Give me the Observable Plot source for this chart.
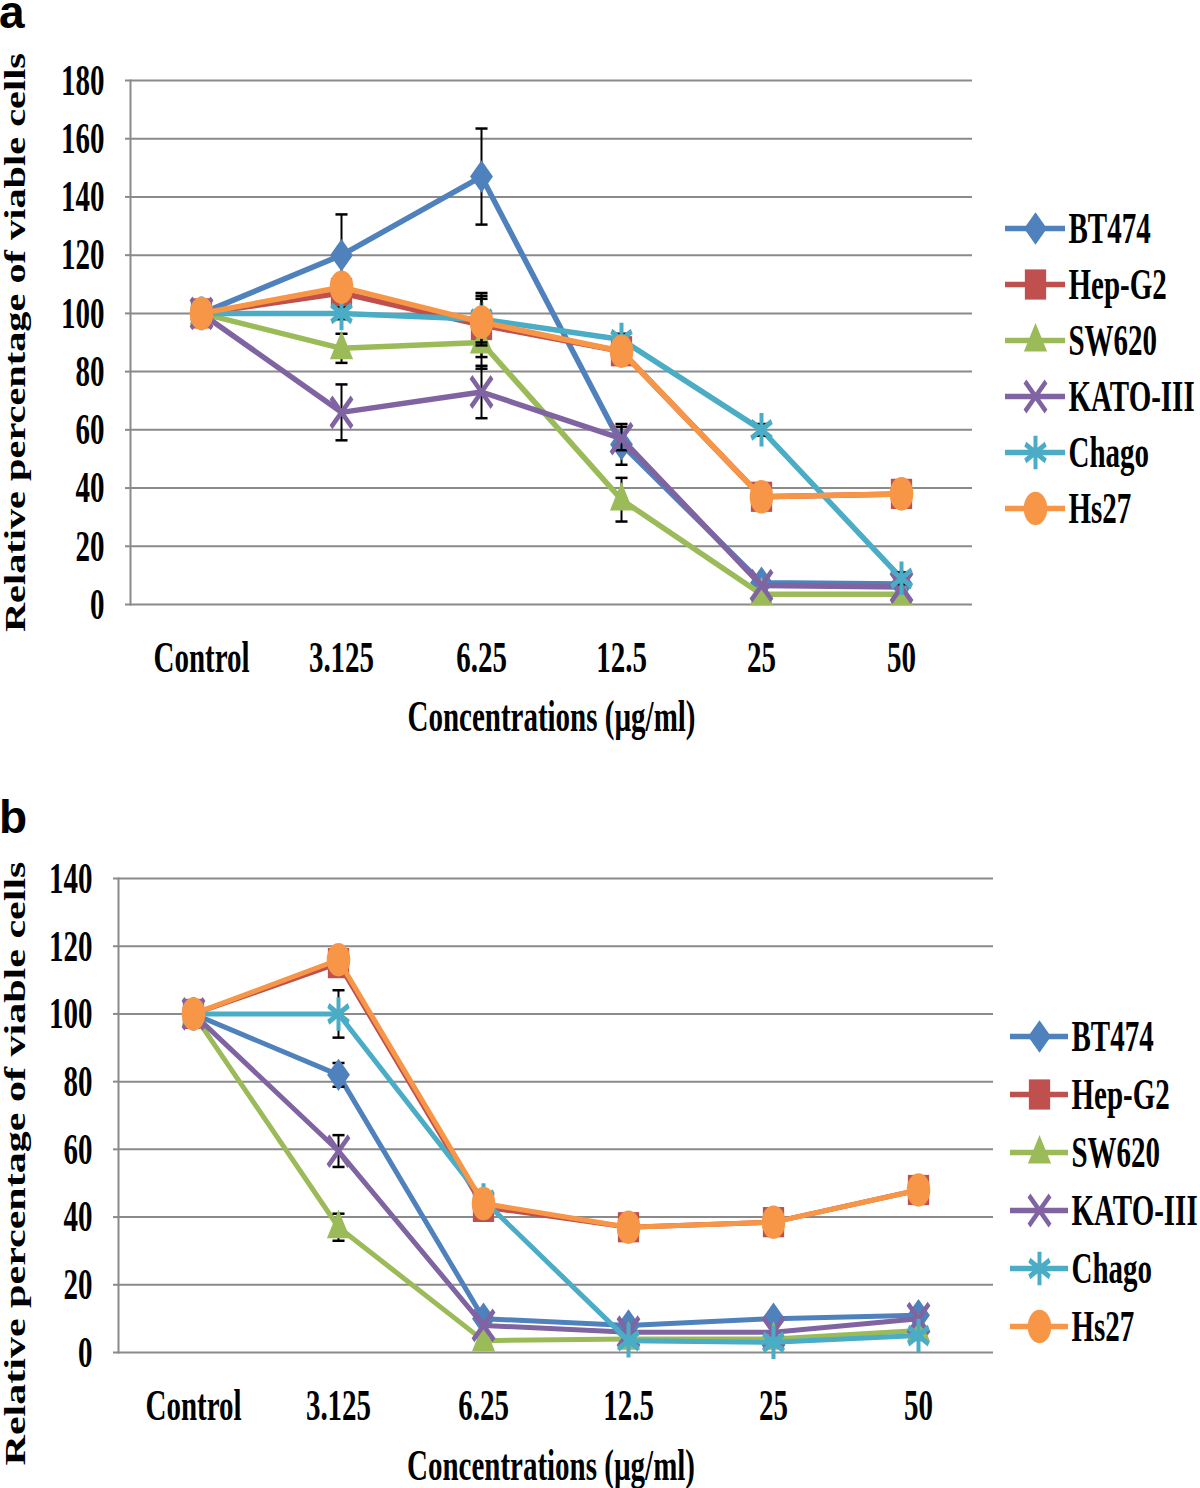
<!DOCTYPE html>
<html><head><meta charset="utf-8">
<script src="https://cdn.jsdelivr.net/npm/d3@7"></script>
<script src="https://cdn.jsdelivr.net/npm/@observablehq/plot@0.6"></script>
<style>
body{margin:0;background:#fff;}
#root{position:relative;width:1200px;height:1488px;overflow:hidden;background:#fff;}
.box{position:absolute;}
.letter{position:absolute;font-family:"Liberation Sans",Arial,sans-serif;font-weight:bold;font-size:46px;line-height:20px;color:#000;}
</style></head><body><div id="root"></div>
<script>
// ---------- data ----------
const concentrations = ["Control", "3.125", "6.25", "12.5", "25", "50"];
const seriesNames = ["BT474", "Hep-G2", "SW620", "KATO-III", "Chago", "Hs27"];
const seriesColors = ["#4F81BD", "#C0504D", "#9BBB59", "#8064A2", "#4BACC6", "#F79646"];
const seriesSymbols = ["diamond2", "square", "triangle", "times", "asterisk", "circle"];
const yTitle = "Relative percentage of viable cells";
const xTitle = "Concentrations (µg/ml)";

// panel a values (per series, per concentration)
const aBT474 = [100, 120, 147, 55, 7.5, 7];
const aHepG2 = [100, 107, 96, 87, 37, 38];
const aSW620 = [100, 88, 90, 36, 3.5, 3.5];
const aKATO  = [100, 66, 73, 57, 6.5, 6];
const aChago = [100, 100, 98, 91, 60, 9];
const aHs27  = [100, 109, 97, 87, 37, 38];
// panel a standard deviations
const aErrBT474 = [0, 14, 16.5, 7, 0, 0];
const aErrHepG2 = [0, 3, 11, 3, 2, 2];
const aErrSW620 = [0, 5, 9, 7.5, 0, 0];
const aErrKATO  = [0, 9.6, 9, 4, 0, 0];
const aErrChago = [0, 2, 8, 2, 2, 2];
const aErrHs27  = [0, 3, 8, 3, 2, 2];
const aTicks = [0, 20, 40, 60, 80, 100, 120, 140, 160, 180];

// panel b values
const bBT474 = [100, 82, 10, 8, 10, 11];
const bHepG2 = [100, 115, 43, 37, 38.5, 48];
const bSW620 = [100, 37, 3.5, 4, 4, 6.5];
const bKATO  = [100, 59.5, 8, 6, 6, 10];
const bChago = [100, 100, 45, 3.5, 3, 5];
const bHs27  = [100, 116, 44, 37, 38.5, 48];
// panel b standard deviations
const bErrBT474 = [0, 3.5, 0, 0, 0, 0];
const bErrHepG2 = [0, 3, 2, 2, 2, 2];
const bErrSW620 = [0, 4, 0, 0, 0, 0];
const bErrKATO  = [0, 4.7, 0, 0, 0, 0];
const bErrChago = [0, 7, 0, 0, 0, 0];
const bErrHs27  = [0, 3, 2, 2, 2, 2];
const bTicks = [0, 20, 40, 60, 80, 100, 120, 140];

// ---------- helpers ----------
const FONT = '"Liberation Serif", "Times New Roman", serif';
const GRID = "#8a8a8a";
const markerR = {diamond2: 10.3, square: 12, triangle: 8.6, times: 9.6, asterisk: 11.2, circle: 11.8};
const strokeSym = new Set(["times", "asterisk"]);
const capSymbol = {draw(ctx, size) { const w = Math.sqrt(size) / 2; ctx.moveTo(-w, 0); ctx.lineTo(w, 0); }};

function stretchEl(el, k, kRot) {
  const b = el.getBBox();
  const cx = b.x + b.width / 2, cy = b.y + b.height / 2;
  const tr = el.getAttribute("transform") || "";
  const sc = /rotate/.test(tr) ? `scale(${kRot || k},1)` : `scale(1,${k})`;
  el.setAttribute("transform", `${tr} translate(${cx},${cy}) ${sc} translate(${-cx},${-cy})`);
}

function markerMark(data, s, opts) {
  const sym = seriesSymbols[s];
  const base = {symbol: sym, r: markerR[sym], ...opts};
  if (strokeSym.has(sym)) return Plot.dot(data, {...base, fill: "none", stroke: seriesColors[s], strokeWidth: 4});
  return Plot.dot(data, {...base, fill: seriesColors[s], stroke: "none"});
}

function panel(cfg) {
  const rows = [];
  cfg.values.forEach((vals, s) => vals.forEach((v, i) =>
    rows.push({series: seriesNames[s], conc: concentrations[i], value: v, err: cfg.errors[s][i]})));
  const marks = [
    Plot.gridY({ticks: cfg.ticks, stroke: GRID, strokeOpacity: 1, strokeWidth: 2}),
    Plot.frame({anchor: "left", stroke: GRID, strokeWidth: 2}),
    Plot.axisY({ticks: cfg.ticks, tickSize: 5, tickPadding: 21, stroke: GRID, strokeWidth: 2, label: null}),
    Plot.axisX({tickSize: 0, tickPadding: 42, label: null}),
    Plot.text([yTitle], {frameAnchor: "left", textAnchor: "middle", lineAnchor: "middle", rotate: -90, dx: cfg.yTitleDx, dy: cfg.yTitleDy}),
    Plot.text([xTitle], {frameAnchor: "bottom", textAnchor: "middle", lineAnchor: "middle", dx: cfg.xTitleDx, dy: cfg.xTitleDy})
  ];
  seriesNames.forEach((name, s) => {
    const d = rows.filter(r => r.series === name);
    marks.push(Plot.line(d, {x: "conc", y: "value", stroke: seriesColors[s], strokeWidth: cfg.lw}));
    const e = d.filter(r => r.err > 0);
    marks.push(Plot.ruleX(e, {x: "conc", y1: r => r.value - r.err, y2: r => r.value + r.err, stroke: "#000", strokeWidth: 2}));
    marks.push(Plot.dot(e.flatMap(r => [{conc: r.conc, y: r.value - r.err}, {conc: r.conc, y: r.value + r.err}]),
      {x: "conc", y: "y", symbol: capSymbol, r: 6.8, fill: "none", stroke: "#000", strokeWidth: 2.5}));
    marks.push(markerMark(d, s, {x: "conc", y: "value"}));
  });
  return Plot.plot({
    width: 1200, height: cfg.height,
    marginLeft: cfg.ml, marginRight: cfg.mr, marginTop: cfg.mt, marginBottom: cfg.mb,
    style: {fontFamily: FONT, fontSize: "29px", fontWeight: "bold", color: "#000", background: "transparent", overflow: "visible"},
    x: {type: "point", domain: concentrations, padding: 0.5, axis: null},
    y: {domain: [0, cfg.ticks[cfg.ticks.length - 1]], axis: null},
    marks
  });
}

function legend(cfg) {
  const marks = [];
  seriesNames.forEach((name, s) => {
    marks.push(Plot.ruleY([name], {y: d => d, x1: () => 0, x2: () => 1, stroke: seriesColors[s], strokeWidth: 5.5}));
    marks.push(markerMark([name], s, {x: () => 0.5, y: d => d}));
    marks.push(Plot.text([name], {x: () => 1, y: d => d, text: d => d, textAnchor: "start", dx: 3}));
  });
  return Plot.plot({
    width: 200, height: cfg.height, margin: 0,
    style: {fontFamily: FONT, fontSize: "29px", fontWeight: "bold", color: "#000", background: "transparent", overflow: "visible"},
    x: {domain: [0, 1], range: cfg.xRange, axis: null},
    y: {type: "point", domain: seriesNames, range: cfg.yRange, axis: null},
    marks
  });
}

function place(node, left, top, titleStretch) {
  const div = document.createElement("div");
  div.className = "box";
  div.style.left = left + "px";
  div.style.top = top + "px";
  div.appendChild(node);
  document.getElementById("root").appendChild(div);
  const svg = node.tagName.toLowerCase() === "svg" ? node : node.querySelector("svg");
  svg.querySelectorAll("text").forEach(t => stretchEl(t, 1.5, titleStretch));
  // series markers: dot groups that are not the black error-bar caps
  svg.querySelectorAll('g[aria-label="dot"]').forEach(g => {
    if (g.getAttribute("stroke") === "#000") return;
    g.querySelectorAll("path, circle").forEach(el => stretchEl(el, 1.42));
  });
}

function letter(txt, left, top) {
  const d = document.createElement("div");
  d.className = "letter";
  d.textContent = txt;
  d.style.left = left + "px";
  d.style.top = top + "px";
  document.getElementById("root").appendChild(d);
}

// ---------- panel a ----------
place(panel({
  height: 745, ml: 130, mr: 228, mt: 80, mb: 141, lw: 5.5,
  ticks: aTicks,
  values: [aBT474, aHepG2, aSW620, aKATO, aChago, aHs27],
  errors: [aErrBT474, aErrHepG2, aErrSW620, aErrKATO, aErrChago, aErrHs27],
  yTitleDx: -115, yTitleDy: 0, xTitleDx: 0, xTitleDy: 112
}), 0, 0, 1.39);
place(legend({height: 410, xRange: [5, 65], yRange: [30, 369]}), 1000, 168);
letter("a", -1, 2);

// ---------- panel b ----------
place(panel({
  height: 743, ml: 118, mr: 207, mt: 133, mb: 136, lw: 5,
  ticks: bTicks,
  values: [bBT474, bHepG2, bSW620, bKATO, bChago, bHs27],
  errors: [bErrBT474, bErrHepG2, bErrSW620, bErrKATO, bErrChago, bErrHs27],
  yTitleDx: -103, yTitleDy: 48, xTitleDx: -5, xTitleDy: 113
}), 0, 745, 1.45);
place(legend({height: 420, xRange: [10, 68], yRange: [30, 383]}), 1000, 974);
letter("b", -1, 807);
</script></body></html>
